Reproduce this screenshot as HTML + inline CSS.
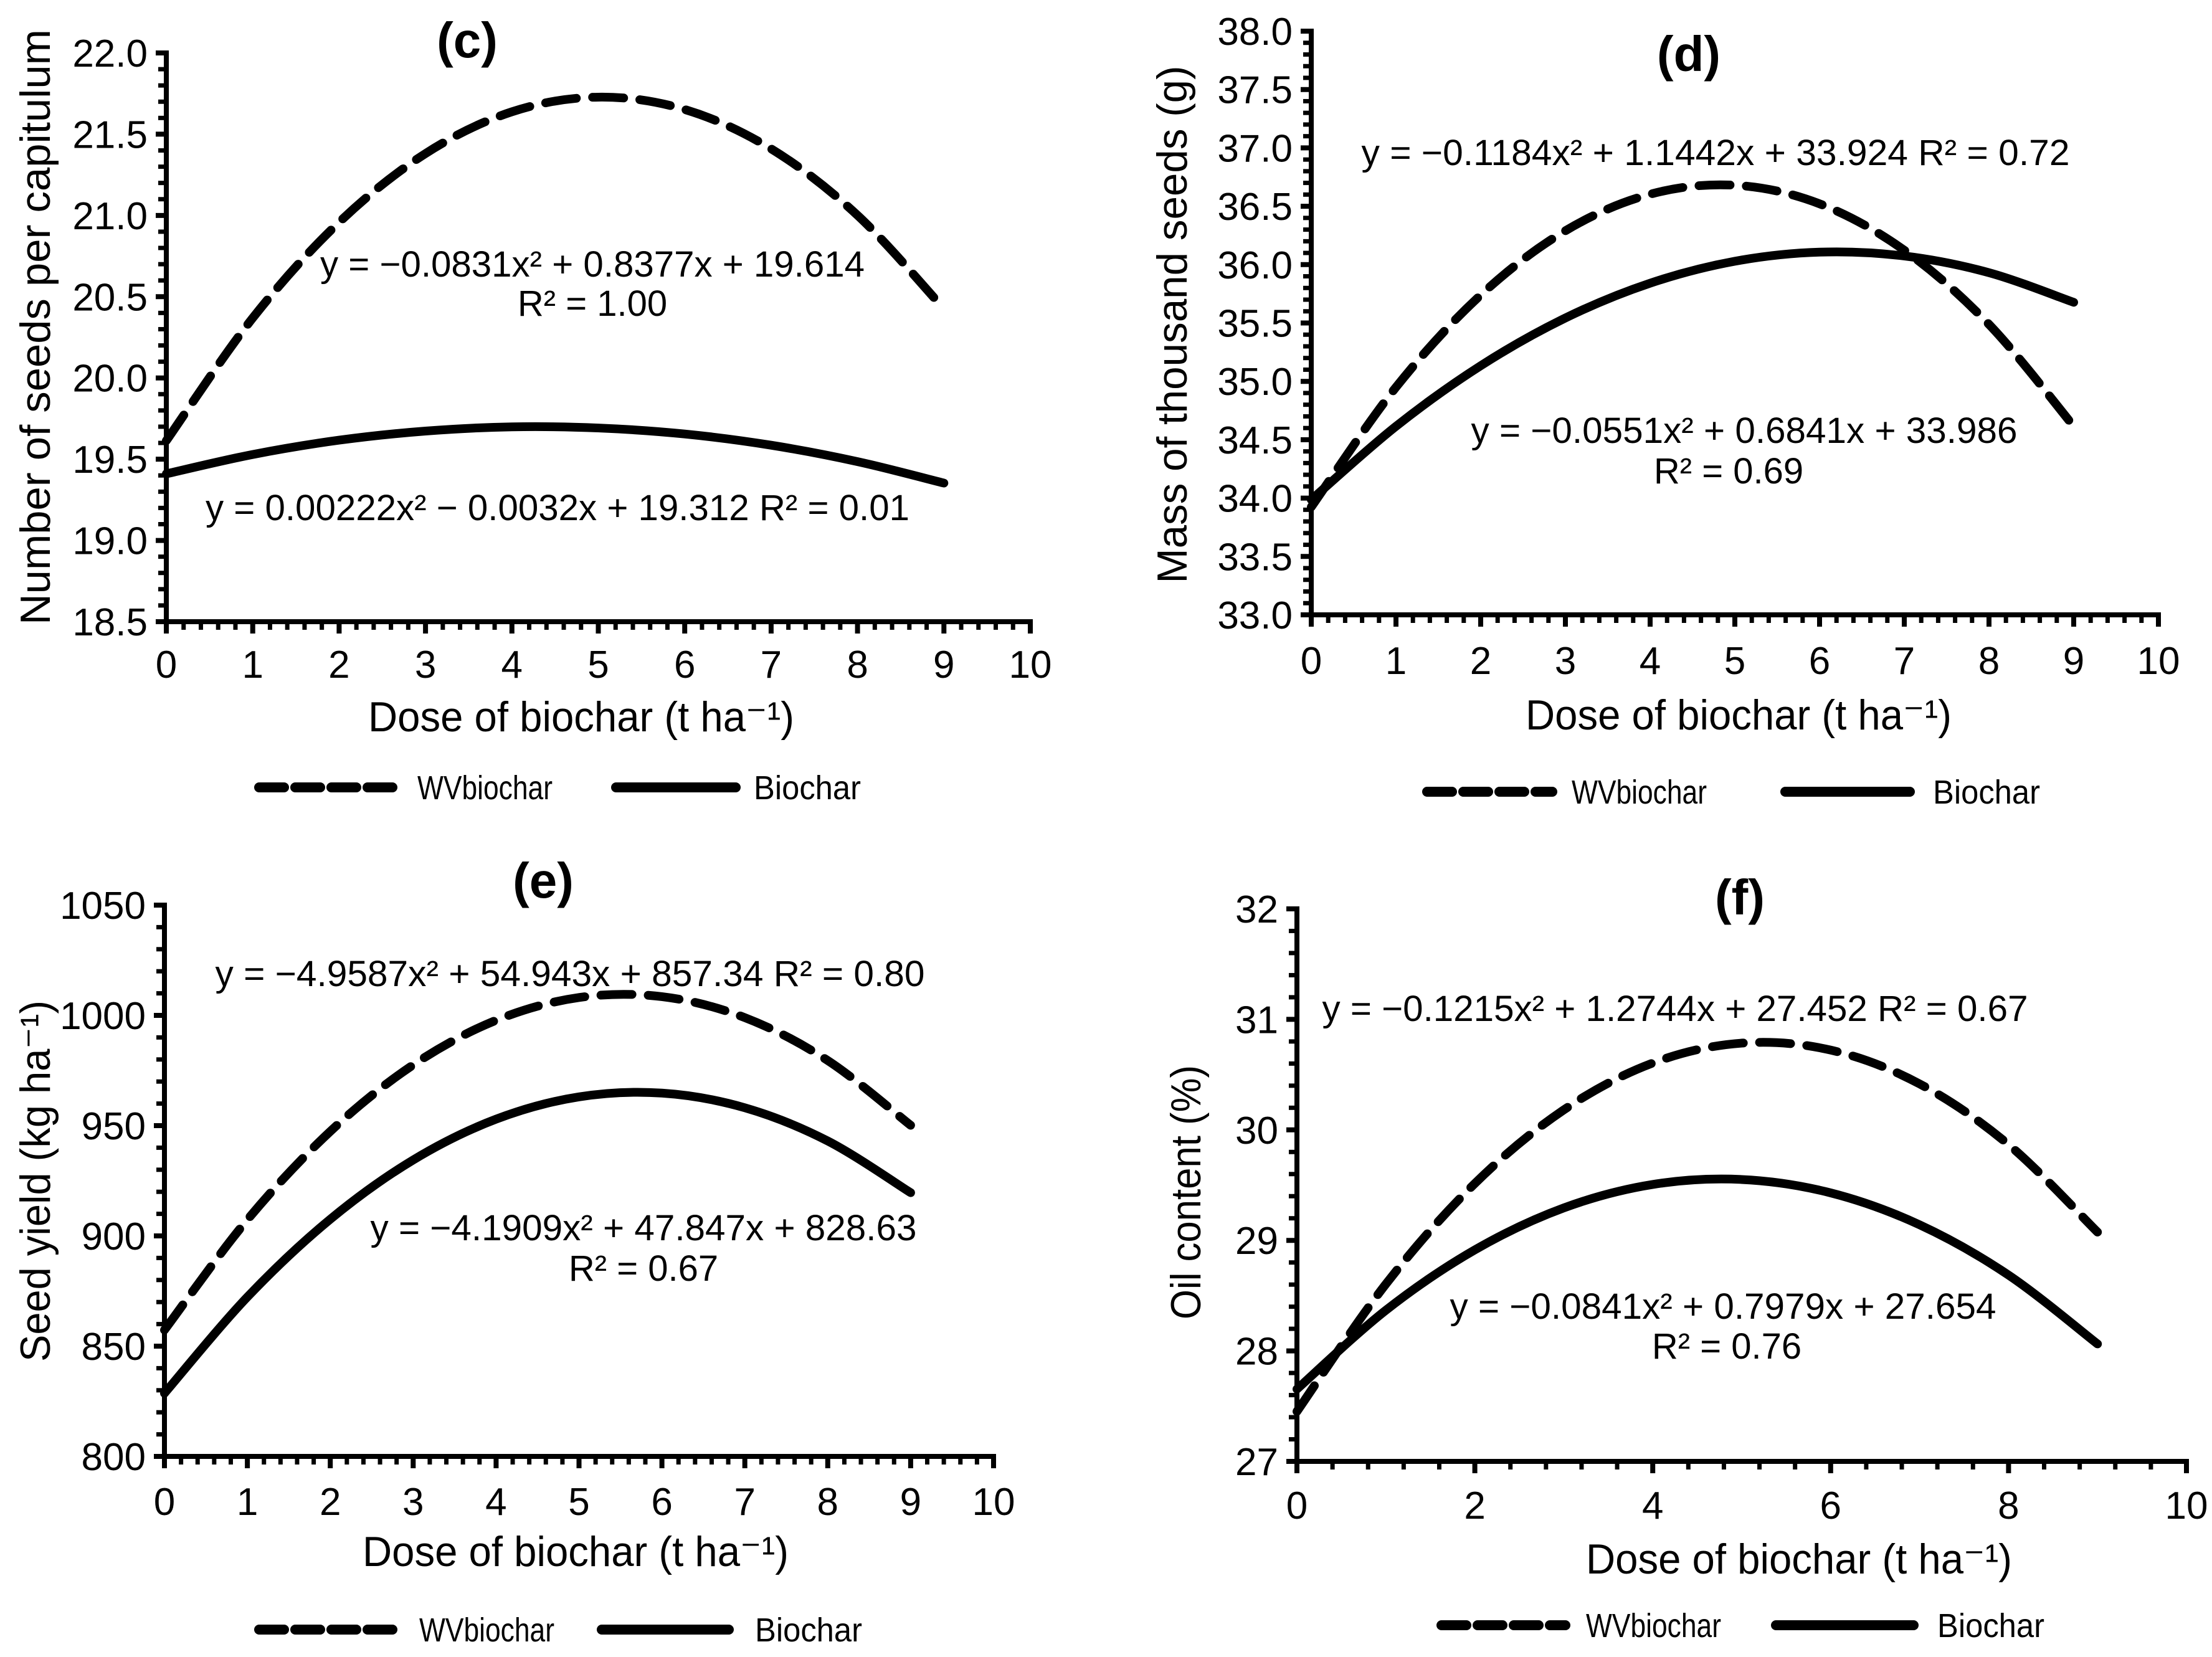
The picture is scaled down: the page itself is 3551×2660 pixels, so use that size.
<!DOCTYPE html>
<html><head><meta charset="utf-8">
<style>
html,body{margin:0;padding:0;background:#fff;}
svg{display:block;}
text{font-family:"Liberation Sans",Arial,sans-serif;fill:#000;}
</style></head>
<body>
<svg id="fig" xmlns="http://www.w3.org/2000/svg" width="3551" height="2660" viewBox="0 0 3551 2660"></svg>
<script>
// ---- data ----
const doses = [0,1,2,3,4,5,6,7,8,9];
const seedsWV  = [19.614,20.369,20.958,21.381,21.638,21.728,21.652,21.410,21.001,20.426];
const seedsBio = [19.410,19.529,19.617,19.673,19.699,19.692,19.655,19.586,19.485,19.353];
const massWV   = [33.924,34.950,35.739,36.290,36.603,36.680,36.521,36.123,35.488,34.616];
const massBio  = [33.986,34.615,35.134,35.543,35.841,36.029,36.107,36.074,35.931,35.677];
const yieldWV  = [857.34,907.32,947.39,977.54,997.78,1008.1,1008.5,998.98,979.53,950.16];
const yieldBio = [828.63,872.29,907.56,934.44,952.94,963.04,964.76,958.10,943.04,919.60];
const oilWV    = [27.452,28.605,29.515,30.181,30.605,30.785,30.722,30.416,29.867,29.075];
const oilBio   = [27.654,28.368,28.914,29.294,29.506,29.551,29.430,29.141,28.686,28.063];
const ticksC = ["18.5","19.0","19.5","20.0","20.5","21.0","21.5","22.0"];
const ticksD = ["33.0","33.5","34.0","34.5","35.0","35.5","36.0","36.5","37.0","37.5","38.0"];
const ticksE = ["800","850","900","950","1000","1050"];
const ticksF = ["27","28","29","30","31","32"];
const xTicks10 = ["0","1","2","3","4","5","6","7","8","9","10"];
const xTicksEven = ["0","2","4","6","8","10"];

const NS="http://www.w3.org/2000/svg";
const svg=document.getElementById('fig');
function mk(tag,attrs,parent){const e=document.createElementNS(NS,tag);for(const k in attrs)e.setAttribute(k,attrs[k]);(parent||svg).appendChild(e);return e;}
function txt(parent,x,y,s,size,anchor,extra){const t=mk('text',Object.assign({x:x,y:y,'font-size':size,'text-anchor':anchor||'middle'},extra||{}),parent);t.textContent=s;return t;}

function curvePath(xs,ys,sx,sy){
  const p=xs.map((x,i)=>[sx(x),sy(ys[i])]);
  let d=`M${p[0][0]},${p[0][1]}`;
  for(let i=0;i<p.length-1;i++){
    const p0=p[i-1]||p[i],p1=p[i],p2=p[i+1],p3=p[i+2]||p[i+1];
    const c1=[p1[0]+(p2[0]-p0[0])/6,p1[1]+(p2[1]-p0[1])/6];
    const c2=[p2[0]-(p3[0]-p1[0])/6,p2[1]-(p3[1]-p1[1])/6];
    d+=` C${c1[0]},${c1[1]} ${c2[0]},${c2[1]} ${p2[0]},${p2[1]}`;
  }
  return d;
}

function panel(cfg){
  const g=mk('g',{});
  
  
  const sx=v=>cfg.x0+(v-cfg.xmin)/(cfg.xmax-cfg.xmin)*(cfg.x1-cfg.x0);
  const sy=v=>cfg.yb-(v-cfg.ymin)/(cfg.ymax-cfg.ymin)*(cfg.yb-cfg.yt);
  const ax=mk('g',{},g);
  
  
  mk('line',{x1:cfg.x0,y1:cfg.yt-4,x2:cfg.x0,y2:cfg.yb+4,stroke:'#000','stroke-width':8},ax);
  mk('line',{x1:cfg.x0-4,y1:cfg.yb,x2:cfg.x1+4,y2:cfg.yb,stroke:'#000','stroke-width':8},ax);
  const nYm=Math.round((cfg.ymax-cfg.ymin)/cfg.yminor);
  for(let i=0;i<=nYm;i++){const y=sy(cfg.ymin+i*cfg.yminor);const r=i*cfg.yminor/cfg.ymajor;const major=Math.abs(r-Math.round(r))<1e-6;
    mk('line',{x1:cfg.x0-(major?17:13),y1:y,x2:cfg.x0,y2:y,stroke:'#000','stroke-width':major?8:7},ax);}
  const nXm=Math.round((cfg.xmax-cfg.xmin)/cfg.xminor);
  for(let i=0;i<=nXm;i++){const x=sx(cfg.xmin+i*cfg.xminor);const r=(i*cfg.xminor/cfg.xmajor);const major=Math.abs(r-Math.round(r))<1e-6;
    mk('line',{x1:x,y1:cfg.yb,x2:x,y2:cfg.yb+(major?19:13),stroke:'#000','stroke-width':major?8:7},ax);}
  cfg.yLabels.forEach((s,i)=>{const t=txt(ax,cfg.x0-30,sy(cfg.ymin+i*cfg.ymajor)+22,s,62,'end');
    
    });
  cfg.xLabels.forEach((s,i)=>{const t=txt(ax,sx(cfg.xmin+i*cfg.xmajor),cfg.xly+4,s,62,'middle');
    
    });
  let t=txt(g,cfg.title[0],cfg.title[1]+8,cfg.title[2],80,'middle',{'font-weight':'bold'});
  
  
  t=txt(g,0,0,cfg.ytitle[2],68,'middle',{transform:`translate(${cfg.ytitle[0]},${cfg.ytitle[1]}) rotate(-90)`,textLength:cfg.ytitle[3],lengthAdjust:'spacingAndGlyphs'});
  
  
  t=txt(g,cfg.xtitle[0],cfg.xtitle[1],'Dose of biochar (t ha⁻¹)',68,'middle',{textLength:684,lengthAdjust:'spacingAndGlyphs'});
  
  
  cfg.eqs.forEach(e=>{const a={};if(e[3])Object.assign(a,{textLength:e[3],lengthAdjust:'spacingAndGlyphs'});
    const q=txt(g,e[0],e[1],e[2],58,'middle',a);
    
    });
  let p=mk('path',{d:curvePath(doses,cfg.bio,sx,sy),fill:'none',stroke:'#000','stroke-width':14,'stroke-linecap':'round'},g);
  
  
  p=mk('path',{d:curvePath(doses,cfg.wv,sx,sy),fill:'none',stroke:'#000','stroke-width':14,'stroke-dasharray':'50 26','stroke-linecap':'round'},g);
  
  
  const L=cfg.leg;const lg=mk('g',{},g);
  
  
  const le1=mk('line',{x1:L[0]+8,y1:L[5],x2:L[1]-8,y2:L[5],stroke:'#000','stroke-width':16,'stroke-dasharray':'40 18','stroke-linecap':'round'},lg);
  
  
  let lt=txt(lg,L[2],L[5]+19,'WVbiochar',54,'start',{textLength:217,lengthAdjust:'spacingAndGlyphs'});
  
  
  const le2=mk('line',{x1:L[3]+8,y1:L[5],x2:L[4]-8,y2:L[5],stroke:'#000','stroke-width':16,'stroke-linecap':'round'},lg);
  
  
  lt=txt(lg,L[6],L[5]+19,'Biochar',54,'start',{textLength:172,lengthAdjust:'spacingAndGlyphs'});
  
  
}

panel({id:'c',x0:267,x1:1654,yt:85,yb:998,xmin:0,xmax:10,ymin:18.5,ymax:22.0,yminor:0.1,ymajor:0.5,xminor:0.2,xmajor:1,
  yLabels:ticksC,xLabels:xTicks10,xly:1084,wv:seedsWV,bio:seedsBio,
  title:[750,84,'(c)'],ytitle:[80,525,'Number of seeds per capitulum',956],xtitle:[933,1174],
  eqs:[[951,444,'y = −0.0831x² + 0.8377x + 19.614',874],[951,507,'R² = 1.00'],[895,835,'y = 0.00222x² − 0.0032x + 19.312 R² = 0.01',1130]],
  leg:[408,646,670,981,1189,1264,1210]});
panel({id:'d',x0:2105,x1:3465,yt:50,yb:987,xmin:0,xmax:10,ymin:33,ymax:38,yminor:0.1,ymajor:0.5,xminor:0.2,xmajor:1,
  yLabels:ticksD,xLabels:xTicks10,xly:1078,wv:massWV,bio:massBio,
  title:[2711,106,'(d)'],ytitle:[1905,521,'Mass of thousand seeds (g)',831],xtitle:[2791,1171],
  eqs:[[2754,265,'y = −0.1184x² + 1.1442x + 33.924 R² = 0.72',1137],[2800,711,'y = −0.0551x² + 0.6841x + 33.986',877],[2775,776,'R² = 0.69']],
  leg:[2283,2500,2523,2858,3074,1271,3103]});
panel({id:'e',x0:264,x1:1595,yt:1453,yb:2338,xmin:0,xmax:10,ymin:800,ymax:1050,yminor:10,ymajor:50,xminor:0.2,xmajor:1,
  yLabels:ticksE,xLabels:xTicks10,xly:2428,wv:yieldWV,bio:yieldBio,
  title:[872,1433,'(e)'],ytitle:[80,1896,'Seed yield (kg ha⁻¹)',580],xtitle:[924,2514],
  eqs:[[915,1583,'y = −4.9587x² + 54.943x + 857.34 R² = 0.80',1139],[1033,1991,'y = −4.1909x² + 47.847x + 828.63',877],[1033,2056,'R² = 0.67']],
  leg:[408,641,673,958,1178,2616,1212]});
panel({id:'f',x0:2082,x1:3510,yt:1459,yb:2346,xmin:0,xmax:10,ymin:27,ymax:32,yminor:0.2,ymajor:1,xminor:0.4,xmajor:2,
  yLabels:ticksF,xLabels:xTicksEven,xly:2434,wv:oilWV,bio:oilBio,
  title:[2793,1460,'(f)'],ytitle:[1927,1914,'Oil content (%)',408],xtitle:[2888,2526],
  eqs:[[2689,1639,'y = −0.1215x² + 1.2744x + 27.452 R² = 0.67',1133],[2766,2117,'y = −0.0841x² + 0.7979x + 27.654',877],[2772,2181,'R² = 0.76']],
  leg:[2306,2521,2546,2843,3080,2609,3110]});
</script>
</body></html>
